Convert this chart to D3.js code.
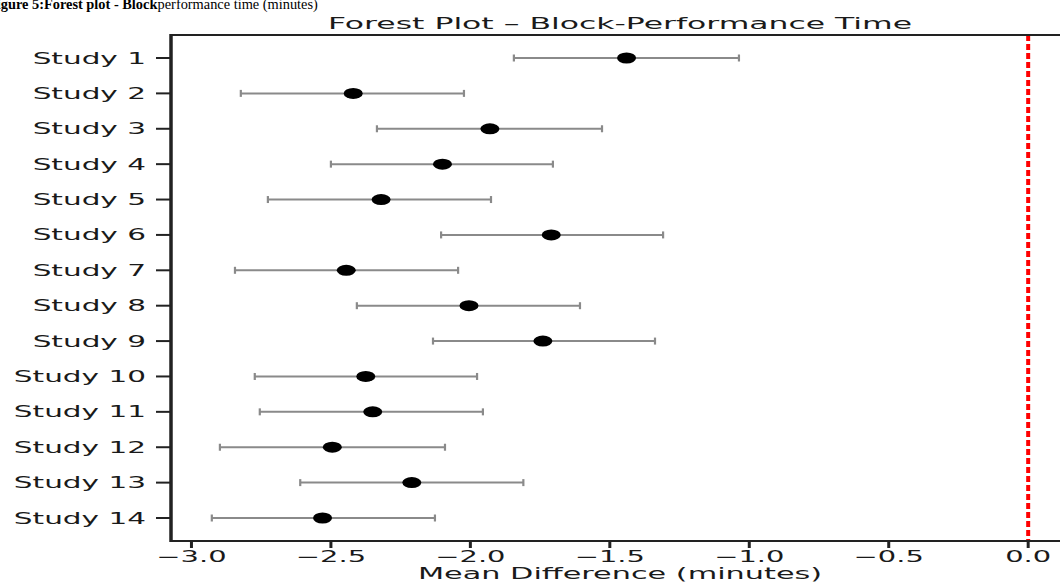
<!DOCTYPE html>
<html>
<head>
<meta charset="utf-8">
<script src="https://cdn.jsdelivr.net/npm/d3@7"></script>
<style>
  html, body { margin: 0; padding: 0; background: #fff; }
  svg { display: block; }
</style>
</head>
<body>
<div id="chart"></div>
<script>
const width = 1060;
const height = 583;

// data
const studies = ["Study 1", "Study 2", "Study 3", "Study 4", "Study 5", "Study 6", "Study 7",
  "Study 8", "Study 9", "Study 10", "Study 11", "Study 12", "Study 13", "Study 14"];
const meanDiff = [-1.44, -2.42, -1.93, -2.10, -2.32, -1.71, -2.445, -2.005, -1.74, -2.375, -2.35, -2.495, -2.21, -2.53];
const lowerCI = [-1.844, -2.823, -2.335, -2.50, -2.726, -2.105, -2.844, -2.407, -2.134, -2.773, -2.755, -2.898, -2.61, -2.927];
const upperCI = [-1.037, -2.023, -1.528, -1.704, -1.926, -1.309, -2.044, -1.607, -1.338, -1.976, -1.955, -2.091, -1.81, -2.127];
const xTicks = [-3.0, -2.5, -2.0, -1.5, -1.0, -0.5, 0.0];
const nullLine = 0;

// the figure is stretched sideways, text follows that
const sx = 1.93;
const font = "'DejaVu Sans', sans-serif";

const plot = { left: 171, right: 1069, top: 35, bottom: 541 };

// matplotlib-like 5% margins
const xMin = d3.min(lowerCI), xMax = Math.max(d3.max(upperCI), nullLine);
const xPad = (xMax - xMin) * 0.05;
const x = d3.scaleLinear()
  .domain([xMin - xPad, xMax + xPad])
  .range([plot.left, plot.right]);

const yIdx = d3.range(studies.length);
const y = d3.scaleLinear()
  .domain([-0.65, studies.length - 1 + 0.65])
  .range([plot.top, plot.bottom]);

const svg = d3.select("#chart").append("svg")
  .attr("width", width)
  .attr("height", height);

// caption above the figure (cut at the top in the source)
const serif = "'Liberation Serif', 'Times New Roman', serif";
const capBold = svg.append("text")
  .attr("x", -12).attr("y", 9)
  .attr("font-family", serif)
  .attr("font-size", 14)
  .attr("font-weight", "bold")
  .attr("fill", "#000")
  .text("Figure 5:Forest plot - Block");
const capRest = svg.append("text")
  .attr("y", 9)
  .attr("font-family", serif)
  .attr("font-size", 14)
  .attr("fill", "#000")
  .text(" performance time (minutes)");
const w1 = capBold.node().getComputedTextLength();
const w2 = capRest.node().getComputedTextLength();
const capSize = 14 * 330 / (w1 + w2);
capBold.attr("font-size", capSize);
capRest.attr("font-size", capSize).attr("x", -12 + w1 * capSize / 14);

function stretchText(g, tx, ty, str, size, anchor) {
  return g.append("text")
    .attr("transform", `translate(${tx},${ty}) scale(${sx},1)`)
    .attr("text-anchor", anchor)
    .attr("font-family", font)
    .attr("font-size", size)
    .attr("fill", "#1a1a1a")
    .text(str);
}

// error bars
const bars = svg.append("g");
yIdx.forEach(i => {
  const yy = y(i);
  bars.append("line")
    .attr("x1", x(lowerCI[i])).attr("x2", x(upperCI[i]))
    .attr("y1", yy).attr("y2", yy)
    .attr("stroke", "#8a8a8a")
    .attr("stroke-width", 2);
  [lowerCI[i], upperCI[i]].forEach(v => {
    bars.append("line")
      .attr("x1", x(v)).attr("x2", x(v))
      .attr("y1", yy - 3.5).attr("y2", yy + 3.5)
      .attr("stroke", "#8a8a8a")
      .attr("stroke-width", 2.2);
  });
});

// points
svg.append("g").selectAll("ellipse")
  .data(yIdx)
  .enter()
  .append("ellipse")
  .attr("cx", i => x(meanDiff[i]))
  .attr("cy", i => y(i))
  .attr("rx", 9.5)
  .attr("ry", 5.5)
  .attr("fill", "#000");

// null line
svg.append("line")
  .attr("x1", x(nullLine)).attr("x2", x(nullLine))
  .attr("y1", plot.top).attr("y2", plot.bottom)
  .attr("stroke", "#ff0000")
  .attr("stroke-width", 4)
  .attr("stroke-dasharray", "6,3");

// spines
const spine = svg.append("g").attr("stroke", "#222").attr("fill", "none");
spine.append("line")
  .attr("x1", plot.left).attr("x2", plot.right)
  .attr("y1", plot.top).attr("y2", plot.top)
  .attr("stroke-width", 2);
spine.append("line")
  .attr("x1", plot.left).attr("x2", plot.right)
  .attr("y1", plot.bottom).attr("y2", plot.bottom)
  .attr("stroke-width", 2);
spine.append("line")
  .attr("x1", plot.left).attr("x2", plot.left)
  .attr("y1", plot.top - 1).attr("y2", plot.bottom + 1)
  .attr("stroke-width", 3.5);
spine.append("line")
  .attr("x1", plot.right).attr("x2", plot.right)
  .attr("y1", plot.top).attr("y2", plot.bottom)
  .attr("stroke-width", 3.5);

// y ticks
const yAxis = svg.append("g");
yIdx.forEach(i => {
  yAxis.append("line")
    .attr("x1", plot.left - 15).attr("x2", plot.left)
    .attr("y1", y(i)).attr("y2", y(i))
    .attr("stroke", "#222")
    .attr("stroke-width", 2);
  stretchText(yAxis, 146, y(i) + 5.5, studies[i], 15.3, "end");
});

// x ticks
const xAxis = svg.append("g");
const fmt = d3.format(".1f");
xTicks.forEach(t => {
  xAxis.append("line")
    .attr("x1", x(t)).attr("x2", x(t))
    .attr("y1", plot.bottom).attr("y2", plot.bottom + 7)
    .attr("stroke", "#222")
    .attr("stroke-width", 3);
  stretchText(xAxis, x(t), 562, fmt(t).replace("-", "\u2212"), 15, "middle");
});

// labels
const midX = (plot.left + plot.right) / 2;
stretchText(svg, midX, 579, "Mean Difference (minutes)", 15.7, "middle");
stretchText(svg, midX, 29, "Forest Plot \u2013 Block-Performance Time", 16.3, "middle");
</script>
</body>
</html>
